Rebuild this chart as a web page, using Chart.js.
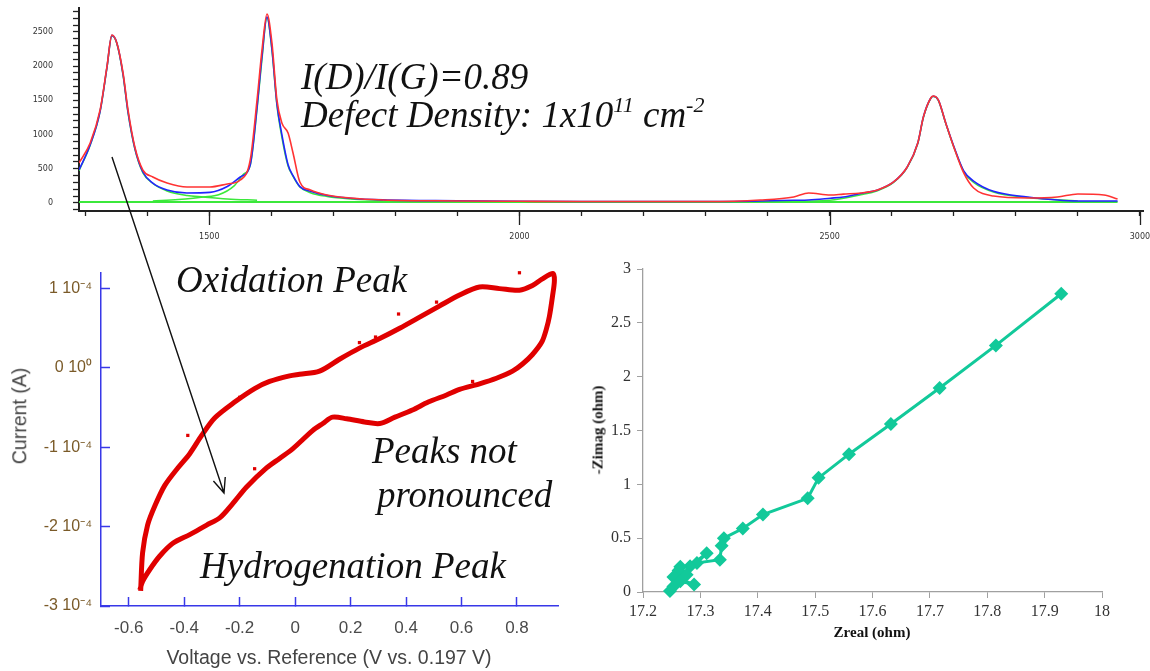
<!DOCTYPE html>
<html>
<head>
<meta charset="utf-8">
<script src="https://cdn.jsdelivr.net/npm/chart.js@4.4.1/dist/chart.umd.min.js"></script>
<style>
    html, body { margin: 0; padding: 0; background: #ffffff; }
    #page { position: relative; width: 1150px; height: 671px; overflow: hidden; }
    .box { position: absolute; }
    .note {
        position: absolute;
        font-family: 'Liberation Serif', 'Times New Roman', serif;
        font-style: italic;
        font-size: 37px;
        line-height: 1;
        color: #111;
        white-space: nowrap;
    }
    .note sup { font-size: 22px; position: relative; top: -15px; vertical-align: baseline; }
    .axisTitle { position: absolute; white-space: nowrap; line-height: 1; }
    .sans { font-family: 'Liberation Sans', Arial, sans-serif; font-size: 19.5px; color: #444; }
    .serif { font-family: 'Liberation Serif', 'Times New Roman', serif; font-weight: bold; font-size: 15px; color: #111; }
    .rot { transform: translate(-50%, -50%) rotate(-90deg); }
    .ctr { transform: translate(-50%, -50%); }
</style>
</head>
<body>
<div id="page">
    <div class="box" style="left:0;top:0"><canvas id="raman" width="1150" height="250"></canvas></div>
    <div class="box" style="left:0;top:245px"><canvas id="cv" width="570" height="426"></canvas></div>
    <div class="box" style="left:570px;top:245px"><canvas id="nyquist" width="580" height="426"></canvas></div>

    <div class="note" style="left:301px;top:58px">I(D)/I(G)=0.89</div>
    <div class="note" style="left:301px;top:96px">Defect Density: 1x10<sup>11</sup> cm<sup>-2</sup></div>
    <div class="note" style="left:176px;top:261px">Oxidation Peak</div>
    <div class="note" style="left:372px;top:432px">Peaks not</div>
    <div class="note" style="left:377px;top:476px">pronounced</div>
    <div class="note" style="left:200px;top:547px">Hydrogenation Peak</div>

    <div class="axisTitle sans rot" style="left:20px;top:416px">Current (A)</div>
    <div class="axisTitle sans ctr" style="left:329px;top:658px">Voltage vs. Reference (V vs. 0.197 V)</div>
    <div class="axisTitle serif rot" style="left:598px;top:430px">-Zimag (ohm)</div>
    <div class="axisTitle serif ctr" style="left:872px;top:632px">Zreal (ohm)</div>

    <canvas id="arrow" width="1150" height="671" style="position:absolute;left:0;top:0"></canvas>
</div>

<script>
// ---------- Raman spectrum (top panel) ----------
const ramanShift = [1290, 1308, 1324, 1335, 1343, 1351, 1361, 1369, 1380, 1393, 1409, 1432, 1464, 1501, 1529,
    1550, 1566, 1577, 1585, 1593, 1601, 1609, 1617, 1627, 1635, 1646, 1663, 1690, 1727, 1780, 1900, 2000,
    2100, 2200, 2300, 2388, 2442, 2466, 2501, 2522, 2550, 2577, 2603, 2625, 2642, 2651, 2663, 2667, 2675,
    2687, 2700, 2716, 2732, 2764, 2819, 2867, 2900, 2942, 2964];
const ramanMeasured = [585, 877, 1360, 1988, 2456, 2340, 1900, 1360, 819, 482, 380, 292, 234, 234, 278,
    336, 629, 1506, 2237, 2763, 2340, 1506, 1170, 1023, 731, 307, 190, 117, 73, 44, 30, 25,
    22, 22, 22, 44, 88, 146, 117, 130, 146, 190, 307, 526, 877, 1257, 1535, 1564, 1506,
    1170, 819, 439, 219, 102, 73, 88, 132, 117, 58];
const ramanFit = [482, 850, 1340, 1980, 2450, 2340, 1880, 1330, 800, 453, 292, 190, 146, 155, 240,
    380, 560, 1400, 2150, 2720, 2250, 1450, 1000, 560, 400, 240, 170, 110, 70, 45, 32, 25,
    22, 22, 22, 30, 40, 44, 70, 88, 140, 190, 307, 526, 877, 1257, 1535, 1560, 1506,
    1170, 830, 470, 320, 170, 88, 44, 30, 29, 29];

// fitted components (green)
const bandDShift = [1290, 1308, 1324, 1335, 1343, 1351, 1361, 1369, 1380, 1393, 1409, 1432, 1464, 1490, 1529, 1577];
const bandD = [470, 845, 1335, 1975, 2445, 2330, 1870, 1320, 790, 440, 285, 175, 110, 88, 60, 40];
const bandGShift = [1409, 1450, 1474, 1490, 1515, 1540, 1555, 1566, 1577, 1585, 1593, 1601, 1609, 1617, 1627,
    1635, 1646, 1663, 1690, 1727, 1780];
const bandG = [30, 50, 70, 88, 120, 250, 420, 550, 1370, 2110, 2710, 2230, 1430, 960, 540, 390, 235, 150, 95, 60, 40];
const band2DShift = [2420, 2500, 2550, 2577, 2603, 2625, 2642, 2651, 2663, 2667, 2675, 2687, 2700, 2716, 2732, 2764, 2819, 2900];
const band2D = [20, 40, 120, 180, 300, 520, 870, 1250, 1530, 1555, 1500, 1165, 820, 460, 300, 160, 80, 30];
const baselineShift = [1290, 2964];
const baseline = [16, 16];
const ramanMajorTicks = [1500, 2000, 2500, 3000];

// ---------- Cyclic voltammogram (bottom left), current in units of 1e-4 A ----------
const cvUpVoltage = [-0.557, -0.55, -0.532, -0.506, -0.47, -0.423, -0.38, -0.337, -0.29, -0.218, -0.146, -0.092,
    -0.02, 0.016, 0.088, 0.16, 0.232, 0.305, 0.377, 0.449, 0.52, 0.593, 0.665, 0.737, 0.809, 0.856, 0.89, 0.93];
const cvUpCurrent = [-2.81, -2.33, -1.98, -1.74, -1.48, -1.26, -1.08, -0.85, -0.63, -0.43, -0.26, -0.17,
    -0.10, -0.08, -0.04, 0.11, 0.25, 0.37, 0.50, 0.64, 0.78, 0.92, 1.02, 1.00, 0.98, 1.04, 1.12, 1.19];
const cvDownVoltage = [0.935, 0.928, 0.917, 0.906, 0.89, 0.856, 0.82, 0.784, 0.726, 0.665, 0.593, 0.546, 0.48,
    0.423, 0.36, 0.305, 0.25, 0.186, 0.135, 0.10, 0.063, -0.009, -0.056, -0.103, -0.175, -0.225, -0.272,
    -0.319, -0.38, -0.441, -0.488, -0.524, -0.55, -0.56];
const cvDownCurrent = [1.10, 0.90, 0.65, 0.49, 0.33, 0.17, 0.05, -0.04, -0.13, -0.20, -0.27, -0.34, -0.43,
    -0.53, -0.62, -0.70, -0.68, -0.64, -0.62, -0.70, -0.79, -1.02, -1.14, -1.26, -1.50, -1.71, -1.89,
    -1.98, -2.10, -2.21, -2.37, -2.54, -2.69, -2.80];
const cvStrayVoltage = [0.809, 0.51, 0.373, 0.232, 0.29, 0.64, -0.387, -0.2, -0.146];
const cvStrayCurrent = [1.20, 0.83, 0.68, 0.32, 0.39, -0.17, -0.85, -0.37, -1.27];

// ---------- Nyquist plot (bottom right) ----------
const zReal = [17.929, 17.815, 17.717, 17.632, 17.559, 17.506, 17.487, 17.409, 17.374, 17.341, 17.337, 17.334,
    17.294, 17.311, 17.282, 17.265, 17.262, 17.276, 17.253, 17.289, 17.265, 17.253, 17.247];
const zImag = [2.77, 2.29, 1.895, 1.56, 1.28, 1.06, 0.87, 0.72, 0.59, 0.50, 0.43, 0.30,
    0.27, 0.36, 0.24, 0.235, 0.20, 0.16, 0.14, 0.07, 0.10, 0.05, 0.01];

const toPoints = (xs, ys) => xs.map((x, i) => ({ x: x, y: ys[i] }));
const onStep = (v, step) => Math.abs(v / step - Math.round(v / step)) < 1e-6;

// Raman
const ramanLine = (data, color, width) => ({
    data: data, borderColor: color, borderWidth: width, pointRadius: 0,
    tension: 0.35, cubicInterpolationMode: 'monotone', fill: false
});

// the x axis only has one tick length, so the major ticks get extended here
const majorTickPlugin = {
    id: 'majorTicks',
    afterDraw(chart) {
        const scale = chart.scales.x;
        const ctx = chart.ctx;
        ctx.save();
        ctx.strokeStyle = '#222';
        ctx.lineWidth = 1.3;
        ctx.beginPath();
        ramanMajorTicks.forEach(v => {
            const px = Math.round(scale.getPixelForValue(v)) + 0.5;
            ctx.moveTo(px, scale.top);
            ctx.lineTo(px, scale.top + 14);
        });
        ctx.stroke();
        ctx.restore();
    }
};

new Chart(document.getElementById('raman'), {
    type: 'line',
    data: {
        datasets: [
            ramanLine(toPoints(ramanShift, ramanMeasured), '#ff3333', 1.6),
            ramanLine(toPoints(ramanShift, ramanFit), '#2323ff', 1.6),
            ramanLine(toPoints(bandDShift, bandD), '#3be83b', 1.5),
            ramanLine(toPoints(bandGShift, bandG), '#3be83b', 1.5),
            ramanLine(toPoints(band2DShift, band2D), '#3be83b', 1.5),
            ramanLine(toPoints(baselineShift, baseline), '#3be83b', 2)
        ]
    },
    plugins: [majorTickPlugin],
    options: {
        responsive: false,
        animation: false,
        layout: { padding: { left: 0, right: 7, top: 8, bottom: 0 } },
        plugins: { legend: { display: false }, tooltip: { enabled: false } },
        scales: {
            x: {
                type: 'linear', min: 1290, max: 3005,
                afterFit: s => { s.height = 39; s.paddingLeft = 0; s.paddingRight = 0; },
                ticks: {
                    stepSize: 100, includeBounds: false, autoSkip: false, maxRotation: 0, padding: 16,
                    color: '#333', font: { family: 'DejaVu Sans', size: 8 },
                    callback: v => (ramanMajorTicks.includes(v) ? String(v) : '')
                },
                grid: { drawOnChartArea: false, tickLength: 5, tickColor: '#222', tickWidth: 1.3 },
                border: { color: '#222', width: 2 }
            },
            y: {
                type: 'linear', min: -117, max: 2850,
                afterFit: s => { s.width = 79; s.paddingTop = 0; s.paddingBottom = 0; },
                ticks: {
                    stepSize: 100, includeBounds: false, autoSkip: false, padding: 20, color: '#333',
                    font: { family: 'DejaVu Sans', size: 8 },
                    callback: v => (onStep(v, 500) ? String(v) : '')
                },
                grid: { drawOnChartArea: false, tickLength: 6, tickColor: '#222', tickWidth: 1.3 },
                border: { color: '#222', width: 2 }
            }
        }
    }
});

// Cyclic voltammogram
const SUPERS = { '-': '\u207b', '0': '\u2070', '4': '\u2074' };
const sup = s => s.split('').map(c => SUPERS[c]).join('');

new Chart(document.getElementById('cv'), {
    type: 'scatter',
    data: {
        datasets: [
            {
                data: toPoints(cvUpVoltage.concat(cvDownVoltage), cvUpCurrent.concat(cvDownCurrent)),
                showLine: true, borderColor: '#e00000', borderWidth: 5, pointRadius: 0, tension: 0.3
            },
            {
                data: toPoints(cvStrayVoltage, cvStrayCurrent),
                pointStyle: 'rect', pointRadius: 2.3, backgroundColor: '#e00000', borderWidth: 0
            }
        ]
    },
    options: {
        responsive: false,
        animation: false,
        clip: false,
        layout: { padding: { left: 0, right: 12, top: 8, bottom: 0 } },
        plugins: { legend: { display: false }, tooltip: { enabled: false } },
        scales: {
            x: {
                type: 'linear', min: -0.70, max: 0.948,
                afterFit: s => { s.height = 65; },
                ticks: {
                    stepSize: 0.2, includeBounds: false, autoSkip: false, maxRotation: 0, padding: 21,
                    color: '#4a4a4a', font: { family: "'Liberation Sans', Arial", size: 17 },
                    callback: v => String(Math.round(v * 10) / 10)
                },
                grid: { drawOnChartArea: false, tickLength: -9, tickColor: '#3838e8', tickWidth: 1.5 },
                border: { color: '#3838e8', width: 1.5 }
            },
            y: {
                type: 'linear', min: -3, max: 1.202,
                afterFit: s => { s.width = 101; },
                ticks: {
                    stepSize: 1, includeBounds: false, autoSkip: false, padding: 18, color: '#7a5a28',
                    font: { family: "'Liberation Sans', Arial", size: 16 },
                    callback: v => {
                        const k = Math.round(v);
                        return k === 0 ? '0 10' + sup('0') : k + ' 10' + sup('-4');
                    }
                },
                grid: { drawOnChartArea: false, tickLength: -9, tickColor: '#3838e8', tickWidth: 1.5 },
                border: { color: '#3838e8', width: 1.5 }
            }
        }
    }
});

// Nyquist
new Chart(document.getElementById('nyquist'), {
    type: 'scatter',
    data: {
        datasets: [{
            data: toPoints(zReal, zImag),
            showLine: true, borderColor: '#12c99a', borderWidth: 3,
            pointStyle: 'rectRot', pointRadius: 7, backgroundColor: '#12c99a', pointBorderWidth: 0
        }]
    },
    options: {
        responsive: false,
        animation: false,
        clip: false,
        layout: { padding: { left: 0, right: 48, top: 24, bottom: 0 } },
        plugins: { legend: { display: false }, tooltip: { enabled: false } },
        scales: {
            x: {
                type: 'linear', min: 17.2, max: 18,
                afterFit: s => { s.height = 79; },
                ticks: {
                    stepSize: 0.1, autoSkip: false, maxRotation: 0, padding: 4, color: '#333',
                    font: { family: "'Liberation Serif', 'Times New Roman'", size: 16 },
                    callback: v => String(Math.round(v * 10) / 10)
                },
                grid: { drawOnChartArea: false, tickLength: 6, tickColor: '#a0a0a0' },
                border: { color: '#a0a0a0', width: 1.3 }
            },
            y: {
                type: 'linear', min: 0, max: 3,
                afterFit: s => { s.width = 73; },
                ticks: {
                    stepSize: 0.5, autoSkip: false, padding: 6, color: '#333',
                    font: { family: "'Liberation Serif', 'Times New Roman'", size: 16 },
                    callback: v => String(Math.round(v * 10) / 10)
                },
                grid: { drawOnChartArea: false, tickLength: 6, tickColor: '#a0a0a0' },
                border: { color: '#a0a0a0', width: 1.3 }
            }
        }
    }
});

// Annotation arrow from the D peak down to the hydrogenation region
function drawArrow(ctx, x1, y1, x2, y2) {
    const ang = Math.atan2(y2 - y1, x2 - x1);
    const head = 16;
    ctx.strokeStyle = '#111';
    ctx.lineWidth = 1.4;
    ctx.beginPath();
    ctx.moveTo(x1, y1);
    ctx.lineTo(x2, y2);
    ctx.moveTo(x2 - head * Math.cos(ang - 0.4), y2 - head * Math.sin(ang - 0.4));
    ctx.lineTo(x2, y2);
    ctx.lineTo(x2 - head * Math.cos(ang + 0.4), y2 - head * Math.sin(ang + 0.4));
    ctx.stroke();
}
drawArrow(document.getElementById('arrow').getContext('2d'), 112, 157, 224, 493);
</script>
</body>
</html>
